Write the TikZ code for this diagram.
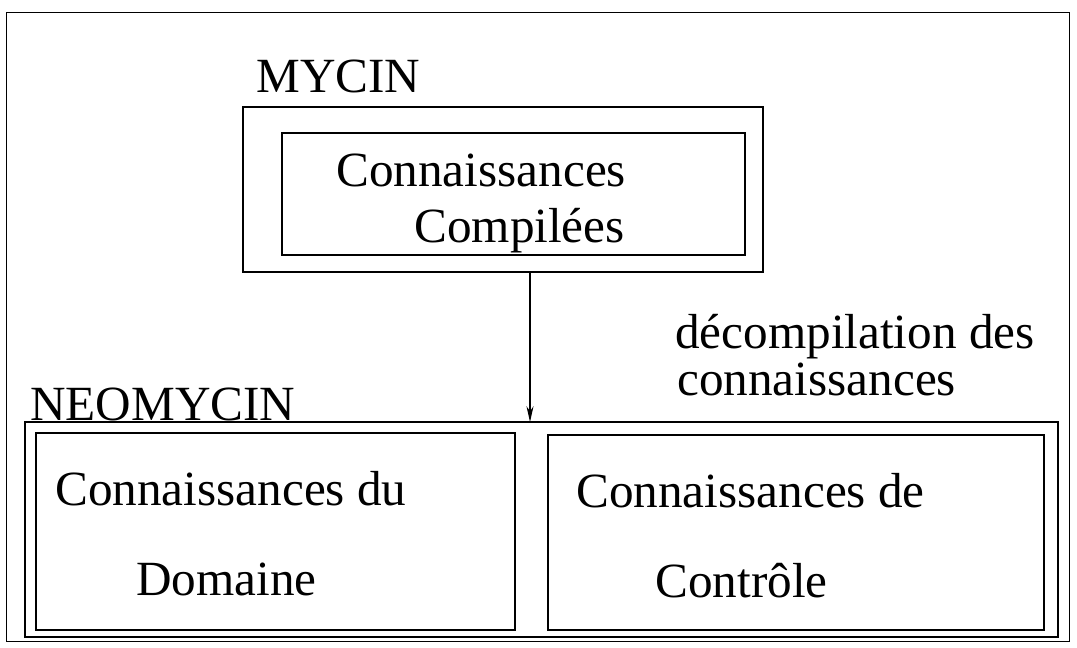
\documentclass[tikz,border=0pt]{standalone}
\usepackage{fontspec}
\setmainfont{Liberation Serif}
\usetikzlibrary{arrows.meta}
\begin{document}
\begin{tikzpicture}[x=0.02cm,y=-0.02cm,
    box/.style={draw,line width=1pt,inner sep=0pt},
    txt/.style={inner sep=0pt,anchor=base west,font=\fontsize{28}{34}\selectfont}]
  \useasboundingbox (0,0) rectangle (1077,647);
  % outer frame
  \node[draw,line width=0.6pt,minimum width=21.28cm,minimum height=12.6cm] (frame) at (538,327) {};
  % MYCIN
  \node[txt] (mycin) at (256,92) {MYCIN};
  \node[box,minimum width=10.4cm,minimum height=3.3cm] (mycinbox) at (503,189.5) {};
  \node[box,minimum width=9.26cm,minimum height=2.44cm] (compiled) at (513.5,194) {};
  \node[txt] (comp1) at (336,186) {Connaissances};
  \node[txt] (comp2) at (414,242) {Compilées};
  % NEOMYCIN
  \node[txt] (neomycin) at (30,420) {NEOMYCIN};
  \node[box,minimum width=20.66cm,minimum height=4.3cm] (neobox) at (541.5,529.5) {};
  \node[box,minimum width=9.58cm,minimum height=3.94cm] (domaine) at (275.5,531.5) {};
  \node[box,minimum width=9.92cm,minimum height=3.9cm] (controle) at (796,532.5) {};
  \node[txt] (dom1) at (55,505) {Connaissances du};
  \node[txt] (dom2) at (136,595) {Domaine};
  \node[txt] (ctl1) at (576,507) {Connaissances de};
  \node[txt] (ctl2) at (655,597) {Contrôle};
  % decompilation
  \coordinate (tip) at (530,422);
  \draw[-{Stealth[length=9pt,width=4pt]},line width=0.7pt] (mycinbox.south -| tip) -- (tip);
  \node[txt] (dec1) at (675,348) {décompilation des};
  \node[txt] (dec2) at (677,395) {connaissances};
\end{tikzpicture}
\end{document}
